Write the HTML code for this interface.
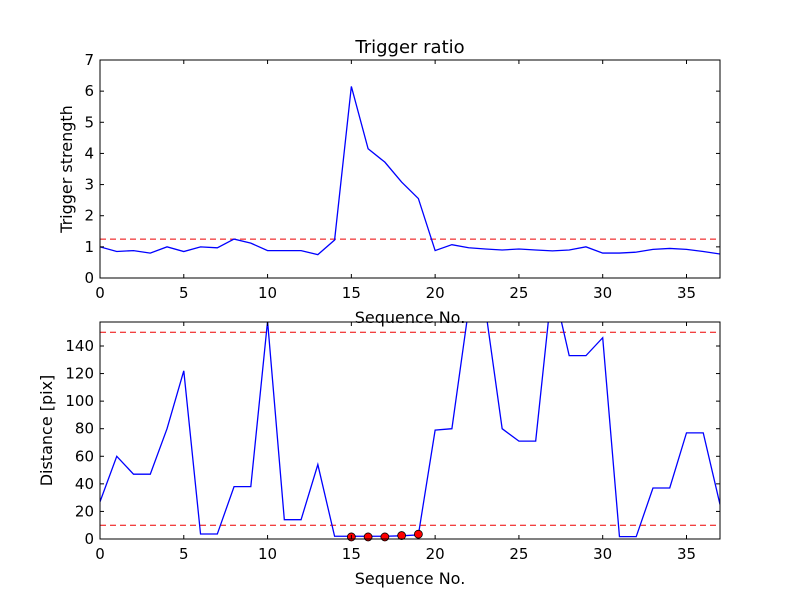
<!DOCTYPE html>
<html><head><meta charset="utf-8"><style>
body{margin:0;background:#fff}
svg{display:block;font-family:"DejaVu Sans","Liberation Sans",sans-serif}
</style></head><body>
<svg id="chart" width="800" height="600" viewBox="0 0 800 600" xmlns="http://www.w3.org/2000/svg">
<rect width="800" height="600" fill="#fff"/>
</svg>
<script>
const seq = [];
for (let i = 0; i <= 37; i++) seq.push(i);
const ratioValues = [1.0,0.85,0.88,0.8,1.0,0.85,1.0,0.97,1.25,1.12,0.88,0.88,0.88,0.75,1.22,6.15,4.15,3.72,3.08,2.55,0.88,1.07,0.97,0.93,0.9,0.93,0.9,0.87,0.9,1.0,0.8,0.8,0.83,0.92,0.95,0.92,0.85,0.77];
const ratioThreshold = [1.25];
const distValues = [27,60,47,47,80,122,3.6,3.6,38,38,158,14,14,54,2,2,2,2,2.3,3,79,80,167,167,80,71,71,186,133,133,146,1.7,1.7,37,37,77,77,25];
const distThresholds = [10,150];
const markX = [15,16,17,18,19];
const markY = [1.5,1.5,1.5,2.5,3.5];
const xTicks = [0,5,10,15,20,25,30,35];
const ratioTicks = [0,1,2,3,4,5,6,7];
const distTicks = [0,20,40,60,80,100,120,140];

const svg = document.getElementById('chart');
const NS = 'http://www.w3.org/2000/svg';
function mk(tag, attrs, parent){const e=document.createElementNS(NS,tag);for(const k in attrs)e.setAttribute(k,attrs[k]);(parent||svg).appendChild(e);return e;}

function panel(name, top, bottom, ymax, yTicks, ylabel, ylabelX){
  const L=100,R=720;
  const sx=v=>L+(v-0)/37*(R-L);
  const sy=v=>bottom-(v/ymax)*(bottom-top);
  const g=mk('g',{});
  
  
  const cid=name+'-clip';
  const cp=mk('clipPath',{id:cid},g);mk('rect',{x:L,y:top,width:R-L,height:bottom-top},cp);
  return {g,sx,sy,L,R,top,bottom,cid,finish(){
    const f=mk('rect',{x:L,y:top,width:R-L,height:bottom-top,fill:'none',stroke:'#000','stroke-width':1},g);
    
    
    xTicks.forEach(t=>{const x=sx(t);
      mk('line',{x1:x,y1:bottom,x2:x,y2:bottom-4,stroke:'#000'},g);
      mk('line',{x1:x,y1:top,x2:x,y2:top+4,stroke:'#000'},g);
      const tx=mk('text',{x:x,y:bottom+20,'font-size':15,'text-anchor':'middle'},g);tx.textContent=t;
      
      
    });
    yTicks.forEach(t=>{const y=sy(t);
      mk('line',{x1:L,y1:y,x2:L+4,y2:y,stroke:'#000'},g);
      mk('line',{x1:R,y1:y,x2:R-4,y2:y,stroke:'#000'},g);
      const tx=mk('text',{x:L-6,y:y+5,'font-size':15,'text-anchor':'end'},g);tx.textContent=t;
      
      
    });
    const xl=mk('text',{x:(L+R)/2,y:bottom+45,'font-size':16,'text-anchor':'middle'},g);xl.textContent='Sequence No.';
    
    
    const cy=(top+bottom)/2;
    const yl=mk('text',{x:ylabelX,y:cy,'font-size':16,'text-anchor':'middle',transform:`rotate(-90 ${ylabelX} ${cy})`},g);yl.textContent=ylabel;
    
    
  }};
}

// Top panel
const p1=panel('ratio',60,278,7,ratioTicks,'Trigger strength',72);
ratioThreshold.forEach(v=>{const l=mk('line',{x1:p1.L,x2:p1.R,y1:p1.sy(v),y2:p1.sy(v),stroke:'#e00','stroke-dasharray':'6,4','stroke-width':1},p1.g);
  
  });
const l1=mk('polyline',{points:seq.map((x,i)=>p1.sx(x)+','+p1.sy(ratioValues[i])).join(' '),fill:'none',stroke:'#00f','stroke-width':1.3,'clip-path':`url(#${p1.cid})`},p1.g);


p1.finish();
const title=mk('text',{x:410,y:53,'font-size':18,'text-anchor':'middle'});title.textContent='Trigger ratio';



// Bottom panel
const p2=panel('distance',322,539,157.4,distTicks,'Distance [pix]',52);
distThresholds.forEach(v=>{const l=mk('line',{x1:p2.L,x2:p2.R,y1:p2.sy(v),y2:p2.sy(v),stroke:'#e00','stroke-dasharray':'6,4','stroke-width':1},p2.g);
  
  });
const l2=mk('polyline',{points:seq.map((x,i)=>p2.sx(x)+','+p2.sy(distValues[i])).join(' '),fill:'none',stroke:'#00f','stroke-width':1.3,'clip-path':`url(#${p2.cid})`},p2.g);


markX.forEach((x,i)=>{const c=mk('circle',{cx:p2.sx(x),cy:p2.sy(markY[i]),r:4,fill:'#f00',stroke:'#000','stroke-width':0.8},p2.g);
  
  });
p2.finish();
</script>
</body></html>
